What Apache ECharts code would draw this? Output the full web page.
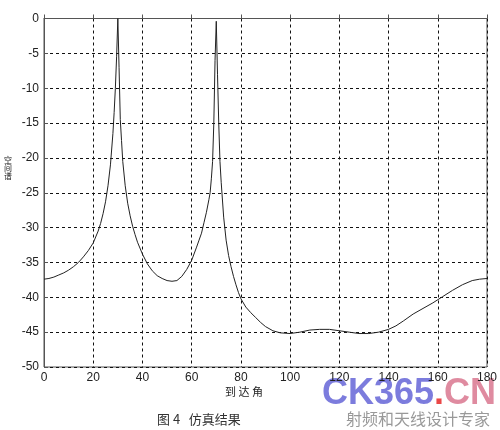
<!DOCTYPE html>
<html>
<head>
<meta charset="utf-8">
<script src="https://cdn.jsdelivr.net/npm/echarts@6/dist/echarts.min.js"></script>
<style>
html,body{margin:0;padding:0;background:#fff;}
#chart{width:500px;height:430px;}
</style>
</head>
<body>
<div id="chart"></div>
<script>
// Arrival angle (degrees)
var angles = [0,2,4,6,8,10,12,14,16,18,20,22,23,24,25,26,27,28,28.5,29,29.5,30,30.5,31,31.5,32,33,34,35,36,37,38,40,42,44,46,48,50,52,54,56,58,60,62,63,64,65,66,67,67.5,68,68.5,69,69.5,70,70.5,71,71.5,72,73,74,75,76,77,78,79,80,82,84,86,88,90,93,96,100,104,108,112,116,120,124,128,132,136,140,143,146,150,154,158,162,166,170,174,177,180];
// Spatial spectrum (dB)
var spectrum = [-37.4,-37.3,-37.1,-36.8,-36.5,-36.1,-35.6,-35.0,-34.2,-33.3,-32.2,-30.5,-29.4,-28.0,-26.3,-24.0,-21.0,-16.5,-13.5,-10,-5.5,0,-7,-14.5,-17.5,-20.5,-24,-26.5,-28.3,-29.8,-31.0,-32.1,-33.8,-35.2,-36.2,-36.9,-37.3,-37.6,-37.7,-37.6,-37.0,-36.0,-34.7,-32.8,-31.8,-30.8,-29.3,-27.8,-26.0,-25.0,-23.0,-20.5,-15,-6,-0.4,-8,-15,-20.5,-23.5,-28.5,-31.8,-34.0,-35.6,-37.0,-38.2,-39.3,-40.2,-41.4,-42.2,-42.9,-43.6,-44.2,-44.8,-45.1,-45.2,-45.0,-44.7,-44.6,-44.6,-44.8,-45.0,-45.2,-45.2,-45.0,-44.6,-44.1,-43.4,-42.4,-41.6,-40.8,-39.9,-39.0,-38.2,-37.6,-37.4,-37.3];
var xTicks = {min:0, max:180, step:20};
var yTicks = {min:-50, max:0, step:5};
var yName = '空间谱';
var xName = '到 达 角';
var caption = '图 4   仿真结果';

var pts = angles.map(function(a,i){return [a, spectrum[i]];});
var chart = echarts.init(document.getElementById('chart'));
var labelFont = {color:'#222', fontSize:12, fontFamily:'Liberation Sans, Arial, sans-serif'};
var gridLine = {show:true, lineStyle:{color:'#111', width:1, type:[3,3]}};
chart.setOption({
  animation:false,
  backgroundColor:'#fff',
  grid:{left:44, right:13, top:18.5, bottom:63, show:true, borderColor:'#555', borderWidth:1, backgroundColor:'transparent'},
  xAxis:{type:'value', min:xTicks.min, max:xTicks.max, interval:xTicks.step,
    axisLine:{show:true, lineStyle:{color:'#555', width:1}},
    axisTick:{show:true, inside:true, length:4, lineStyle:{color:'#555'}},
    axisLabel:Object.assign({margin:5}, labelFont),
    splitLine:gridLine},
  yAxis:{type:'value', min:yTicks.min, max:yTicks.max, interval:yTicks.step,
    axisLine:{show:true, lineStyle:{color:'#555', width:1}},
    axisTick:{show:true, inside:true, length:4, lineStyle:{color:'#555'}},
    axisLabel:Object.assign({margin:5}, labelFont),
    splitLine:gridLine},
  series:[{type:'line', data:pts, showSymbol:false, symbol:'none', smooth:false,
    lineStyle:{color:'#222', width:1}}],
  graphic:[
    {type:'text', left:4, top:156, style:{text:yName.split('').join('\n'), fontSize:8, lineHeight:8, fill:'#222', fontFamily:'Noto Sans CJK SC'}},
    {type:'text', left:225, top:386, style:{text:xName, fontSize:11, fill:'#222', fontFamily:'Noto Sans CJK SC'}},
    {type:'text', left:157, top:413, style:{text:caption, fontSize:13, fill:'#333', fontFamily:'Noto Sans CJK SC'}},
    {type:'text', left:322, top:376, style:{
      text:'{a|CK365}{b|.}{c|CN}',
      rich:{
        a:{fontSize:36, fontWeight:'bold', fill:'rgba(80,80,210,0.75)', fontFamily:'Liberation Sans'},
        b:{fontSize:36, fontWeight:'bold', fill:'rgba(230,40,40,0.85)', fontFamily:'Liberation Sans'},
        c:{fontSize:36, fontWeight:'bold', fill:'rgba(210,90,120,0.7)', fontFamily:'Liberation Sans'}
      }}},
    {type:'text', left:346, top:411, style:{text:'射频和天线设计专家', fontSize:16, fill:'#999', fontFamily:'Noto Sans CJK SC'}}
  ]
});
</script>
</body>
</html>
